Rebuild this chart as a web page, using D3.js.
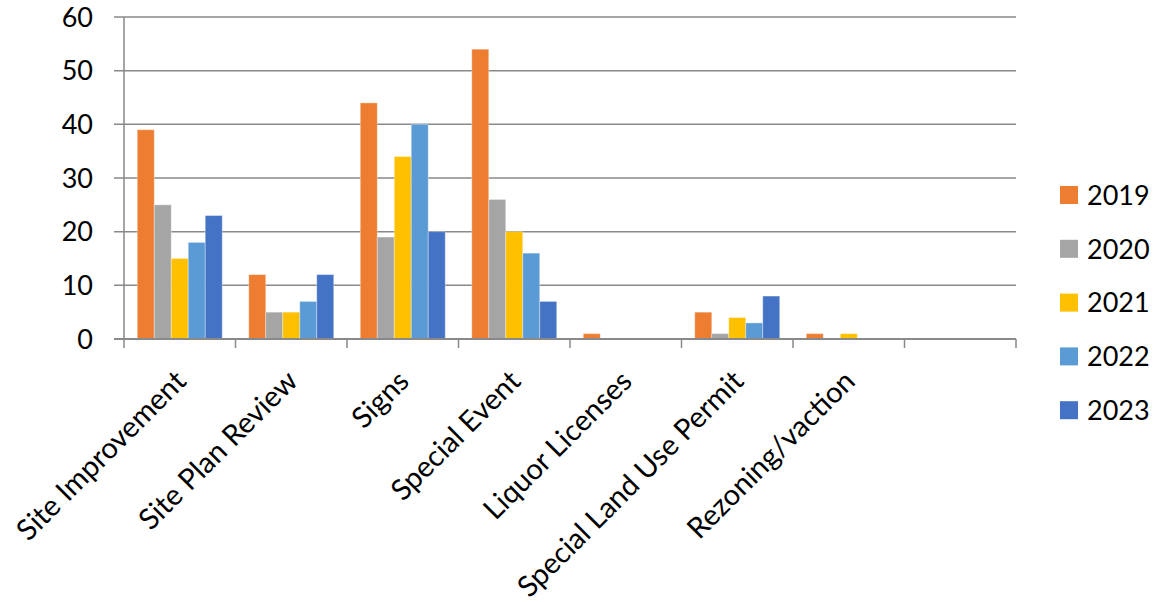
<!DOCTYPE html>
<html>
<head>
<meta charset="utf-8">
<script src="https://cdn.jsdelivr.net/npm/d3@7"></script>
<style>
  html, body { margin: 0; padding: 0; background: #fff; }
  svg text { font-family: Lato, "Open Sans", sans-serif; fill: #000; }
</style>
</head>
<body>
<svg id="chart" width="1156" height="602"></svg>
<script>
// Permit categories (the last slot is left empty)
const categories = ["Site Improvement", "Site Plan Review", "Signs", "Special Event",
  "Liquor Licenses", "Special Land Use Permit", "Rezoning/vaction", ""];
const years = ["2019", "2020", "2021", "2022", "2023"];
const values2019 = [39, 12, 44, 54, 1, 5, 1, null];
const values2020 = [25, 5, 19, 26, 0, 1, 0, null];
const values2021 = [15, 5, 34, 20, 0, 4, 1, null];
const values2022 = [18, 7, 40, 16, 0, 3, 0, null];
const values2023 = [23, 12, 20, 7, 0, 8, 0, null];
const yTicks = [0, 10, 20, 30, 40, 50, 60];
const colors = ["#ED7D31", "#A5A5A5", "#FFC000", "#5B9BD5", "#4472C4"];

const seriesValues = [values2019, values2020, values2021, values2022, values2023];

const svg = d3.select("#chart");
const plot = { left: 124, right: 1016, top: 17, bottom: 339 };

const x = d3.scaleBand().domain(categories).range([plot.left, plot.right])
  .paddingInner(0.238).paddingOuter(0.119);
const xCat = d3.scaleBand().domain(categories).range([plot.left, plot.right]);
const xSub = d3.scaleBand().domain(years).range([0, x.bandwidth()]);
const y = d3.scaleLinear().domain([0, 60]).range([plot.bottom, plot.top]);

const gridColor = "#898989";

// Horizontal gridlines with short left tick stubs
svg.append("g").selectAll("line").data(yTicks.filter(d => d > 0)).join("line")
  .attr("x1", plot.left - 10).attr("x2", plot.right)
  .attr("y1", d => y(d)).attr("y2", d => y(d))
  .attr("stroke", gridColor).attr("stroke-width", 1.5);

// Y axis labels
svg.append("g").selectAll("text").data(yTicks).join("text")
  .attr("x", plot.left - 31).attr("y", d => y(d)).attr("dy", "0.36em")
  .attr("text-anchor", "end").attr("font-size", 27).text(d => d);

// Bars
const groups = svg.append("g").selectAll("g").data(years).join("g");
groups.each(function(yr, i) {
  const vals = seriesValues[i];
  d3.select(this).selectAll("rect")
    .data(categories.map((c, j) => ({ c, v: vals[j] })).filter(d => d.v !== null))
    .join("rect")
    .attr("x", d => x(d.c) + xSub(yr))
    .attr("width", xSub.bandwidth())
    .attr("y", d => y(d.v))
    .attr("height", d => plot.bottom - y(d.v))
    .attr("fill", colors[i])
    .attr("stroke", "#fff").attr("stroke-opacity", 0.35).attr("stroke-width", 1);
});

// Left axis line
svg.append("line")
  .attr("x1", plot.left).attr("x2", plot.left)
  .attr("y1", plot.top).attr("y2", plot.bottom)
  .attr("stroke", gridColor).attr("stroke-width", 1.5);

// Baseline and tick marks
svg.append("line")
  .attr("x1", plot.left - 10).attr("x2", plot.right)
  .attr("y1", plot.bottom).attr("y2", plot.bottom)
  .attr("stroke", gridColor).attr("stroke-width", 2);
const tickXs = categories.map(c => xCat(c)).concat([plot.right]);
svg.append("g").selectAll("line").data(tickXs).join("line")
  .attr("x1", d => d).attr("x2", d => d)
  .attr("y1", plot.bottom).attr("y2", plot.bottom + 9)
  .attr("stroke", gridColor).attr("stroke-width", 1.5);

// Rotated category labels
svg.append("g").selectAll("text").data(categories).join("text")
  .attr("transform", d => `translate(${xCat(d) + xCat.bandwidth() / 2 + 8},${plot.bottom + 44}) rotate(-45)`)
  .attr("text-anchor", "end").attr("font-size", 29)
  .text(d => d);

// Legend
const legend = svg.append("g").selectAll("g").data(years).join("g")
  .attr("transform", (d, i) => `translate(1060,${195 + i * 53.8})`);
legend.append("rect").attr("x", 0).attr("y", -9).attr("width", 18).attr("height", 18)
  .attr("fill", (d, i) => colors[i]);
legend.append("text").attr("x", 27).attr("dy", "0.36em").attr("font-size", 27).text(d => d);
</script>
</body>
</html>
